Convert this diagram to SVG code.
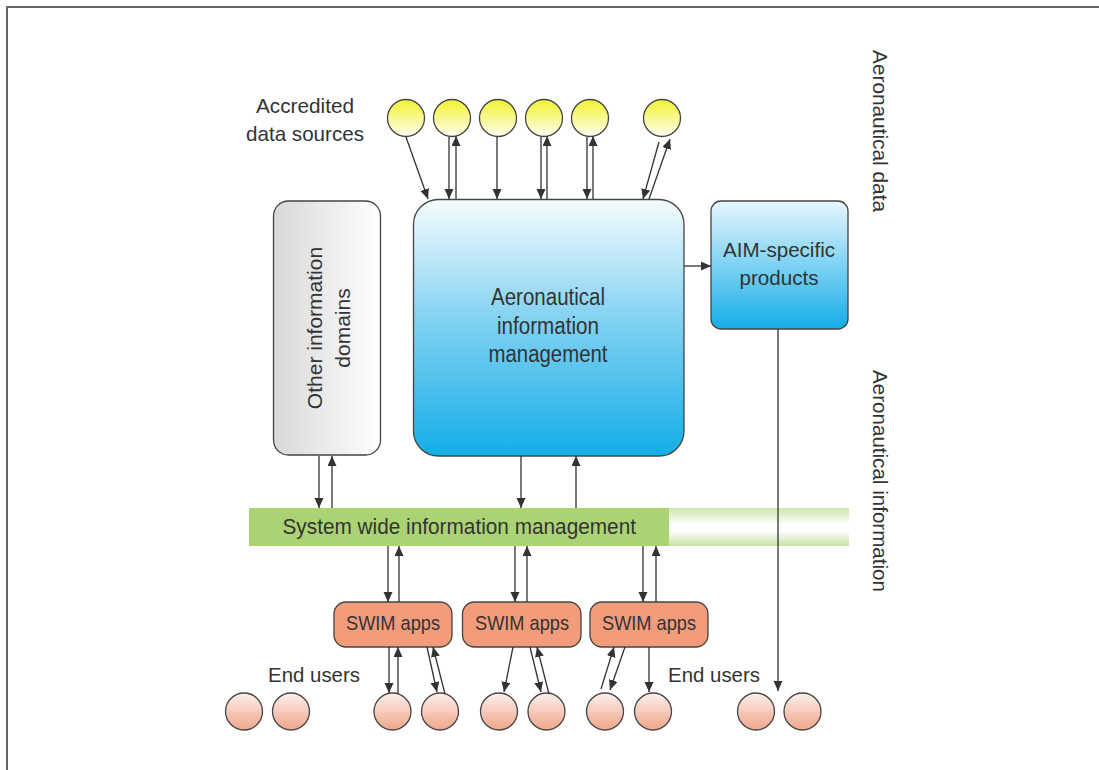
<svg xmlns="http://www.w3.org/2000/svg" width="1099" height="770" viewBox="0 0 1099 770">
<style>
text{font-family:"Liberation Sans",Arial,sans-serif;fill:#333;}
.c{stroke:#333;stroke-width:1.3;fill:none;marker-end:url(#ah);}
.node{stroke:#444;stroke-width:1.3;}
</style>
<defs>
<marker id="ah" markerUnits="userSpaceOnUse" markerWidth="11" markerHeight="10" refX="10" refY="4.5" orient="auto"><path d="M0,0 L10,4.5 L0,9 z" fill="#333"/></marker>
<linearGradient id="gy" x1="0" y1="0" x2="0" y2="1"><stop offset="0" stop-color="#f2f230"/><stop offset="1" stop-color="#fffff2"/></linearGradient>
<linearGradient id="gp" x1="0" y1="0" x2="0" y2="1"><stop offset="0" stop-color="#fdf0ea"/><stop offset="1" stop-color="#f0a58a"/></linearGradient>
<linearGradient id="gb" x1="0" y1="0" x2="0" y2="1"><stop offset="0" stop-color="#f6fcfe"/><stop offset="0.45" stop-color="#86d3f2"/><stop offset="1" stop-color="#13aee7"/></linearGradient>
<linearGradient id="gb2" x1="0" y1="0" x2="0" y2="1"><stop offset="0" stop-color="#e8f7fd"/><stop offset="1" stop-color="#14ade8"/></linearGradient>
<linearGradient id="gg" x1="0" y1="0" x2="1" y2="0"><stop offset="0" stop-color="#d8d8d8"/><stop offset="1" stop-color="#ffffff"/></linearGradient>
<linearGradient id="gf" x1="0" y1="0" x2="0" y2="1"><stop offset="0" stop-color="#cfe6b0"/><stop offset="0.45" stop-color="#ffffff"/><stop offset="0.6" stop-color="#ffffff"/><stop offset="1" stop-color="#c7e2a3"/></linearGradient>
</defs>
<rect width="1099" height="770" fill="#fff"/>
<path d="M6,7 H1099 M7,7 V770" stroke="#666" stroke-width="2" fill="none"/>

<g id="labels">
<text x="305" y="113" font-size="21" text-anchor="middle" textLength="98" lengthAdjust="spacingAndGlyphs">Accredited</text>
<text x="305" y="141" font-size="21" text-anchor="middle" textLength="118" lengthAdjust="spacingAndGlyphs">data sources</text>
<text x="314" y="682" font-size="21" text-anchor="middle" textLength="92" lengthAdjust="spacingAndGlyphs">End users</text>
<text x="714" y="682" font-size="21" text-anchor="middle" textLength="92" lengthAdjust="spacingAndGlyphs">End users</text>
<text transform="translate(873,50) rotate(90)" font-size="21" textLength="162" lengthAdjust="spacingAndGlyphs">Aeronautical data</text>
<text transform="translate(873,370) rotate(90)" font-size="21" textLength="222" lengthAdjust="spacingAndGlyphs">Aeronautical information</text>
</g>

<g id="sources">
<circle class="node" cx="406" cy="118" r="18.5" fill="url(#gy)"/>
<circle class="node" cx="452" cy="118" r="18.5" fill="url(#gy)"/>
<circle class="node" cx="498" cy="118" r="18.5" fill="url(#gy)"/>
<circle class="node" cx="544" cy="118" r="18.5" fill="url(#gy)"/>
<circle class="node" cx="590" cy="118" r="18.5" fill="url(#gy)"/>
<circle class="node" cx="662" cy="118" r="18.5" fill="url(#gy)"/>
</g>

<g id="other-domains">
<rect class="node" x="273.5" y="201" width="107" height="254" rx="15" fill="url(#gg)"/>
<text transform="translate(322,328) rotate(-90)" font-size="21" text-anchor="middle">Other information</text>
<text transform="translate(350,328) rotate(-90)" font-size="21" text-anchor="middle">domains</text>
</g>

<g id="aim">
<rect class="node" x="413.5" y="199.5" width="270.5" height="256.5" rx="25" fill="url(#gb)"/>
<text x="548" y="305" font-size="23" text-anchor="middle" textLength="114" lengthAdjust="spacingAndGlyphs">Aeronautical</text>
<text x="548" y="334" font-size="23" text-anchor="middle" textLength="102" lengthAdjust="spacingAndGlyphs">information</text>
<text x="548" y="362" font-size="23" text-anchor="middle" textLength="119" lengthAdjust="spacingAndGlyphs">management</text>
</g>

<g id="aim-products">
<rect class="node" x="711" y="201" width="137" height="128" rx="10" fill="url(#gb2)"/>
<text x="779" y="257" font-size="21" text-anchor="middle" textLength="112" lengthAdjust="spacingAndGlyphs">AIM-specific</text>
<text x="779" y="285" font-size="21" text-anchor="middle" textLength="79" lengthAdjust="spacingAndGlyphs">products</text>
</g>

<g id="swim">
<rect x="249" y="508" width="420" height="38" fill="#acd373"/>
<rect x="669" y="508" width="180" height="38" fill="url(#gf)"/>
<text x="282.5" y="534" font-size="22" textLength="353.5" lengthAdjust="spacingAndGlyphs">System wide information management</text>
</g>

<g id="swim-apps-1">
<rect class="node" x="334" y="602" width="118" height="45" rx="12" fill="#f29c7c"/>
<text x="393" y="630" font-size="21" text-anchor="middle" textLength="94" lengthAdjust="spacingAndGlyphs">SWIM apps</text>
</g>
<g id="swim-apps-2">
<rect class="node" x="462.5" y="602" width="118.5" height="45" rx="12" fill="#f29c7c"/>
<text x="522" y="630" font-size="21" text-anchor="middle" textLength="94" lengthAdjust="spacingAndGlyphs">SWIM apps</text>
</g>
<g id="swim-apps-3">
<rect class="node" x="590" y="602" width="118" height="45" rx="12" fill="#f29c7c"/>
<text x="649" y="630" font-size="21" text-anchor="middle" textLength="94" lengthAdjust="spacingAndGlyphs">SWIM apps</text>
</g>

<g id="end-users">
<circle class="node" cx="244" cy="711.5" r="18.5" fill="url(#gp)"/>
<circle class="node" cx="291" cy="711.5" r="18.5" fill="url(#gp)"/>
<circle class="node" cx="392.5" cy="711.5" r="18.5" fill="url(#gp)"/>
<circle class="node" cx="440" cy="711.5" r="18.5" fill="url(#gp)"/>
<circle class="node" cx="499" cy="711.5" r="18.5" fill="url(#gp)"/>
<circle class="node" cx="546.5" cy="711.5" r="18.5" fill="url(#gp)"/>
<circle class="node" cx="605" cy="711.5" r="18.5" fill="url(#gp)"/>
<circle class="node" cx="653" cy="711.5" r="18.5" fill="url(#gp)"/>
<circle class="node" cx="756" cy="711.5" r="18.5" fill="url(#gp)"/>
<circle class="node" cx="802.5" cy="711.5" r="18.5" fill="url(#gp)"/>
</g>

<g id="connectors">
<line class="c" x1="406" y1="137" x2="428" y2="199"/>
<line class="c" x1="449" y1="137" x2="449" y2="199"/>
<line class="c" x1="456" y1="199" x2="456" y2="136"/>
<line class="c" x1="497" y1="137" x2="497" y2="199"/>
<line class="c" x1="541" y1="137" x2="541" y2="199"/>
<line class="c" x1="547" y1="199" x2="547" y2="136"/>
<line class="c" x1="587" y1="137" x2="587" y2="199"/>
<line class="c" x1="593" y1="199" x2="593" y2="136"/>
<line class="c" x1="659" y1="142" x2="643" y2="199"/>
<line class="c" x1="649" y1="199" x2="670" y2="139"/>
<line class="c" x1="684" y1="266" x2="711" y2="266"/>
<line class="c" x1="319" y1="456" x2="319" y2="508"/>
<line class="c" x1="332" y1="508" x2="332" y2="456"/>
<line class="c" x1="521" y1="456" x2="521" y2="508"/>
<line class="c" x1="576" y1="508" x2="576" y2="456"/>
<line class="c" x1="778" y1="329" x2="778" y2="691"/>
<line class="c" x1="388" y1="546" x2="388" y2="602"/>
<line class="c" x1="399" y1="602" x2="399" y2="546"/>
<line class="c" x1="515" y1="546" x2="515" y2="602"/>
<line class="c" x1="527" y1="602" x2="527" y2="546"/>
<line class="c" x1="643" y1="546" x2="643" y2="602"/>
<line class="c" x1="656" y1="602" x2="656" y2="546"/>
<line class="c" x1="389" y1="647" x2="389" y2="693"/>
<line class="c" x1="398" y1="694" x2="398" y2="647"/>
<line class="c" x1="427" y1="647" x2="437" y2="692"/>
<line class="c" x1="445" y1="694" x2="433" y2="647"/>
<line class="c" x1="513" y1="647" x2="504" y2="692"/>
<line class="c" x1="530" y1="647" x2="541" y2="692"/>
<line class="c" x1="549" y1="694" x2="537" y2="647"/>
<line class="c" x1="601" y1="689" x2="614" y2="647"/>
<line class="c" x1="625" y1="647" x2="610" y2="690"/>
<line class="c" x1="649" y1="647" x2="649" y2="692"/>
</g>
</svg>
